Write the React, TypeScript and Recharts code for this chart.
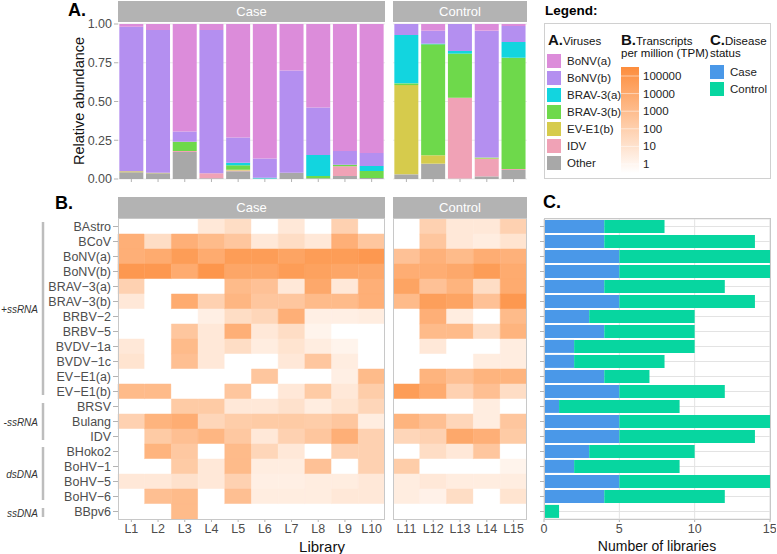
import React from 'react';
import { BarChart, Bar, XAxis, YAxis, CartesianGrid, Cell } from 'recharts';

const FONT = '"Liberation Sans", Arial, Helvetica, sans-serif';

const caseLibs = ['L1', 'L2', 'L3', 'L4', 'L5', 'L6', 'L7', 'L8', 'L9', 'L10'];
const controlLibs = ['L11', 'L12', 'L13', 'L14', 'L15'];

// A. relative abundance, L1..L15 (stacked bottom -> top)
const otherAb = [0.043, 0.037, 0.175, 0.005, 0.05, 0.003, 0.04, 0.005, 0.02, 0.006, 0.03, 0.099, 0.003, 0.017, 0.058];
const idvAb = [0, 0, 0.006, 0.032, 0.005, 0, 0, 0, 0.062, 0, 0, 0, 0.522, 0.112, 0.007];
const eve1bAb = [0.007, 0.004, 0, 0, 0.005, 0, 0, 0, 0, 0, 0.576, 0.054, 0, 0.004, 0];
const brav3bAb = [0, 0, 0.06, 0, 0.028, 0, 0, 0.015, 0.01, 0.046, 0.011, 0.716, 0.284, 0.005, 0.718];
const brav3aAb = [0, 0, 0, 0, 0.017, 0.005, 0, 0.135, 0, 0.032, 0.312, 0.004, 0.017, 0, 0.101];
const bonvbAb = [0.933, 0.92, 0.065, 0.924, 0.163, 0.125, 0.66, 0.307, 0.088, 0.084, 0.071, 0.084, 0.174, 0.819, 0.103];
const bonvaAb = [0.017, 0.039, 0.694, 0.039, 0.732, 0.867, 0.3, 0.538, 0.82, 0.832, 0, 0.043, 0, 0.043, 0.013];

const abundanceSeries = [
  { key: 'other', name: 'Other', color: '#A8A8A8', values: otherAb },
  { key: 'idv', name: 'IDV', color: '#F0A2B6', values: idvAb },
  { key: 'eve1b', name: 'EV-E1(b)', color: '#D6CB4C', values: eve1bAb },
  { key: 'brav3b', name: 'BRAV-3(b)', color: '#6ED94B', values: brav3bAb },
  { key: 'brav3a', name: 'BRAV-3(a)', color: '#12D5DF', values: brav3aAb },
  { key: 'bonvb', name: 'BoNV(b)', color: '#B48FF0', values: bonvbAb },
  { key: 'bonva', name: 'BoNV(a)', color: '#DC8CDA', values: bonvaAb },
];

// B. heatmap rows, log10(TPM) for L1..L15, 0 = not detected
const viruses = ['BAstro', 'BCoV', 'BoNV(a)', 'BoNV(b)', 'BRAV\u22123(a)', 'BRAV\u22123(b)', 'BRBV\u22122', 'BRBV\u22125',
  'BVDV\u22121a', 'BVDV\u22121c', 'EV\u2212E1(a)', 'EV\u2212E1(b)', 'BRSV', 'Bulang', 'IDV', 'BHoko2',
  'BoHV\u22121', 'BoHV\u22125', 'BoHV\u22126', 'BBpv6'];
const tpmLog = [
  [0, 0, 0, 1, 1.5, 0, 1, 0, 2, 0, 0, 2, 1, 1, 2],
  [3.5, 1.5, 3.5, 3, 2.5, 1, 1.5, 1, 3.5, 2.5, 0, 2.5, 1, 0.8, 1.2],
  [3.5, 3.7, 4.3, 3.7, 4.3, 4.3, 4, 4.3, 4.3, 4.5, 2.7, 3.4, 3, 3.6, 3.4],
  [4.5, 4.5, 3.7, 4.6, 3.9, 3.9, 4.3, 4.1, 3.9, 3.8, 3.6, 3.6, 3.8, 4.3, 3.7],
  [2, 0, 0, 0, 3, 2.7, 1, 3.8, 1, 3.5, 4, 2.7, 3.3, 1.5, 3.7],
  [1, 0, 3.7, 2, 3.2, 2.5, 2.5, 3, 3, 3.5, 3, 4.2, 4, 2.7, 4.5],
  [0, 0, 0, 0.7, 1.5, 1.8, 3.5, 0.7, 0.7, 0.8, 0, 3.5, 0.8, 0, 3],
  [0, 0, 2.5, 1, 3.5, 1, 1.5, 0.5, 0, 0, 0, 3, 3, 1.5, 3.3],
  [1, 0, 3, 1, 1.5, 0.8, 1.2, 0.8, 0.5, 0, 0, 1, 0, 0, 0.8],
  [1.2, 0, 2.8, 1, 0, 0, 1, 2.5, 0.8, 0, 0, 0, 0, 0.8, 0.8],
  [0, 0, 0, 0, 0, 2.5, 0, 0, 0.7, 3, 0, 3.3, 2.8, 3.3, 3.3],
  [3, 3, 0, 0, 2.5, 0, 1, 2.3, 1, 2.2, 4.3, 3.7, 2, 2.8, 1.5],
  [0, 0, 2.3, 2.3, 1, 1, 1.3, 0.8, 1.2, 1.8, 0, 0, 0, 0.8, 0],
  [2, 3.3, 3.6, 1.8, 2.2, 2.3, 2.3, 2.2, 2.5, 0.8, 3.3, 2.8, 1.8, 0.8, 2.5],
  [0, 2.3, 2.8, 3.2, 2.4, 1, 2, 2.5, 3.5, 2, 1.8, 2, 3.8, 3.5, 2.3],
  [0, 3.3, 2.4, 0, 3, 1.8, 1, 0, 2, 2, 0, 1.5, 1, 2.5, 0],
  [0, 0, 2.3, 1, 3, 0.8, 0.8, 2.7, 0, 2, 2.2, 0, 0, 0, 0.5],
  [1, 1, 1.3, 1, 2, 0.7, 0.7, 0.8, 0.8, 1, 0.8, 1, 0.8, 0.8, 0.8],
  [0, 2.8, 3, 0, 2.8, 0.8, 0.8, 0.8, 1, 1, 0.8, 0.6, 1.5, 0, 1.2],
  [0, 0, 3, 0, 0, 0, 0, 0, 0, 0, 0, 0, 0, 0, 0],
];

// C. number of libraries
const caseCounts = [4, 4, 5, 5, 4, 5, 3, 4, 2, 2, 4, 5, 1, 5, 5, 3, 2, 5, 4, 0];
const controlCounts = [4, 10, 10, 10, 8, 9, 7, 6, 8, 6, 3, 7, 8, 10, 9, 7, 7, 10, 8, 1];

const tpmTicks = ['100000', '10000', '1000', '100', '10', '1'];

const CASE_COLOR = '#4A98E8';
const CONTROL_COLOR = '#07D6A0';
const AXIS_TEXT = '#4D4D4D';
const TICK_LINE = '#B3B3B3';

function heatColor(v: number) {
  if (v <= 0) return '#FFFFFF';
  const t = Math.min(1, v / 5);
  const end = [253, 141, 60];
  const c = end.map((e) => Math.round(255 + (e - 255) * t));
  return `rgb(${c[0]},${c[1]},${c[2]})`;
}

const abs = (left: number, top: number, extra: React.CSSProperties = {}): React.CSSProperties => ({
  position: 'absolute', left, top, ...extra,
});

function Strip({ left, top, width, label }: { left: number; top: number; width: number; label: string }) {
  return (
    <div style={abs(left, top, { width, height: 21, background: '#B3B3B3', color: '#fff', fontSize: 13, textAlign: 'center', lineHeight: '21px' })}>
      {label}
    </div>
  );
}

function AbundancePanel({ libs, offset, left, width, showY }: { libs: string[]; offset: number; left: number; width: number; showY: boolean }) {
  const data = libs.map((lib, j) => {
    const d: any = { lib };
    abundanceSeries.forEach((s) => (d[s.key] = s.values[offset + j]));
    return d;
  });
  return (
    <div style={abs(left, 14)}>
      <BarChart width={width} height={180} data={data} margin={{ top: 10, right: 0, bottom: 0, left: 0 }} barCategoryGap="5%">
        <CartesianGrid vertical={false} stroke="#EBEBEB" />
        <XAxis dataKey="lib" tickFormatter={() => ''} tickSize={3} height={15} axisLine={false} tickLine={{ stroke: TICK_LINE }} />
        <YAxis hide={!showY} width={118} domain={[0, 1]} ticks={[0, 0.25, 0.5, 0.75, 1]} interval={0} allowDataOverflow
          tickFormatter={(v: number) => v.toFixed(2)} axisLine={false} tickSize={4} tickMargin={2}
          tickLine={{ stroke: TICK_LINE }} tick={{ fontSize: 12.5, fill: AXIS_TEXT }} />
        {abundanceSeries.map((s) => (
          <Bar key={s.key} dataKey={s.key} stackId="a" fill={s.color} isAnimationActive={false} />
        ))}
      </BarChart>
    </div>
  );
}

function HeatPanel({ libs, offset, left, width, showY }: { libs: string[]; offset: number; left: number; width: number; showY: boolean }) {
  const data = viruses.map((name) => {
    const d: any = { name };
    libs.forEach((l) => (d[l] = 1));
    return d;
  });
  return (
    <div style={abs(left, 219)}>
      <BarChart width={width} height={324} data={data} layout="vertical" margin={{ top: 0, right: 0, bottom: 0, left: 0 }} barCategoryGap={0}>
        <XAxis type="number" domain={[0, libs.length]} ticks={libs.map((_, j) => j + 0.5)} interval={0}
          tickFormatter={(v: number) => libs[Math.floor(v)]} height={24} axisLine={false} tickSize={3} tickMargin={2}
          tickLine={{ stroke: TICK_LINE }} tick={{ fontSize: 12.5, fill: AXIS_TEXT }} />
        <YAxis type="category" dataKey="name" hide={!showY} width={88} interval={0} axisLine={false}
          tickSize={5} tickMargin={2} tickLine={{ stroke: TICK_LINE }} tick={{ fontSize: 12.5, fill: AXIS_TEXT }} />
        {libs.map((lib, j) => (
          <Bar key={lib} dataKey={lib} stackId="h" isAnimationActive={false}>
            {viruses.map((v, i) => {
              const c = heatColor(tpmLog[i][offset + j]);
              return <Cell key={v} fill={c} stroke={c} strokeWidth={0.5} />;
            })}
          </Bar>
        ))}
      </BarChart>
    </div>
  );
}

function CountPanel() {
  const data = viruses.map((name, i) => ({ name, Case: caseCounts[i], Control: controlCounts[i] }));
  return (
    <div style={abs(539, 219)}>
      <BarChart width={237} height={324} data={data} layout="vertical" margin={{ top: 0, right: 6, bottom: 0, left: 0 }} barCategoryGap="6%">
        <CartesianGrid xAxisId="minor" horizontal={false} stroke="#F3F3F3" />
        <CartesianGrid stroke="#E3E3E3" />
        <XAxis type="number" domain={[0, 15]} ticks={[0, 5, 10, 15]} height={24} axisLine={false} tickSize={3} tickMargin={2}
          tickLine={{ stroke: TICK_LINE }} tick={{ fontSize: 12.5, fill: AXIS_TEXT }} />
        <XAxis xAxisId="minor" type="number" domain={[0, 15]} ticks={[2.5, 7.5, 12.5]} hide />
        <YAxis type="category" dataKey="name" width={5} interval={0} axisLine={false} tickFormatter={() => ''}
          tickSize={4} tickLine={{ stroke: TICK_LINE }} />
        <Bar dataKey="Case" stackId="c" fill={CASE_COLOR} isAnimationActive={false} />
        <Bar dataKey="Control" stackId="c" fill={CONTROL_COLOR} isAnimationActive={false} />
      </BarChart>
    </div>
  );
}

function Legend() {
  const item = (label: string, color: string, left: number, cy: number) => (
    <React.Fragment key={label}>
      <div style={abs(left, cy - 7, { width: 14, height: 14, background: color })} />
      <div style={abs(left + 20, cy - 8, { fontSize: 11.5, color: '#222', lineHeight: '16px', whiteSpace: 'nowrap' })}>{label}</div>
    </React.Fragment>
  );
  const virusLegend = [...abundanceSeries].reverse();
  const head: React.CSSProperties = { fontSize: 11.5, color: '#111', lineHeight: '12px', whiteSpace: 'nowrap' };
  return (
    <>
      <div style={abs(545, 3, { fontSize: 13.5, fontWeight: 'bold', color: '#000' })}>Legend:</div>
      <div style={abs(544, 23, { width: 227, height: 156, border: '1px solid #D0D0D0', boxSizing: 'border-box' })} />
      <div style={abs(548, 34, head)}>
        <b style={{ fontSize: 15 }}>A.</b>Viruses
      </div>
      {virusLegend.map((s, i) => item(s.name, s.color, 547, 61 + i * 17))}
      <div style={abs(621, 34, head)}>
        <b style={{ fontSize: 15 }}>B.</b>Transcripts<br />per million (TPM)
      </div>
      <svg style={abs(621, 67)} width={18} height={106}>
        <defs>
          <linearGradient id="tpmGrad" x1="0" y1="0" x2="0" y2="1">
            <stop offset="0" stopColor={heatColor(5)} />
            <stop offset="1" stopColor="#FFFFFF" />
          </linearGradient>
        </defs>
        <rect x={0} y={0} width={18} height={106} fill="url(#tpmGrad)" />
        {tpmTicks.map((t, i) => (
          <line key={t} x1={0} x2={18} y1={9 + i * 17.6} y2={9 + i * 17.6} stroke="#fff" strokeOpacity={0.5} />
        ))}
      </svg>
      {tpmTicks.map((t, i) => (
        <div key={t} style={abs(643, 68 + i * 17.6, { fontSize: 11.5, color: '#222', lineHeight: '16px' })}>{t}</div>
      ))}
      <div style={abs(710, 34, head)}>
        <b style={{ fontSize: 15 }}>C.</b>Disease<br />status
      </div>
      {item('Case', CASE_COLOR, 710, 72)}
      {item('Control', CONTROL_COLOR, 710, 89)}
    </>
  );
}

function Groups() {
  const groups = [
    { label: '+ssRNA', y1: 222, y2: 395 },
    { label: '-ssRNA', y1: 403, y2: 440 },
    { label: 'dsDNA', y1: 447, y2: 500 },
    { label: 'ssDNA', y1: 508, y2: 517 },
  ];
  return (
    <svg style={abs(0, 0)} width={60} height={554}>
      {groups.map((g) => (
        <g key={g.label}>
          <line x1={43} x2={43} y1={g.y1} y2={g.y2} stroke="#BDBDBD" strokeWidth={2.5} />
          <text x={38} y={(g.y1 + g.y2) / 2 + 4} textAnchor="end" fontSize={10} fontStyle="italic" fill="#333">{g.label}</text>
        </g>
      ))}
    </svg>
  );
}

export default function App() {
  return (
    <div style={{ position: 'absolute', left: 0, top: 0, width: 777, height: 554, background: '#fff', fontFamily: FONT, overflow: 'hidden' }}>
      <div style={abs(68, 0, { fontSize: 18, fontWeight: 'bold' })}>A.</div>
      <div style={abs(79, 101, { transform: 'translate(-50%, -50%) rotate(-90deg)', fontSize: 14.5, whiteSpace: 'nowrap', color: '#111' })}>
        Relative abundance
      </div>
      <Strip left={118} top={1} width={267} label="Case" />
      <Strip left={393} top={1} width={134} label="Control" />
      <AbundancePanel libs={caseLibs} offset={0} left={0} width={385} showY />
      <AbundancePanel libs={controlLibs} offset={10} left={393} width={134} showY={false} />

      <Legend />

      <div style={abs(55, 193, { fontSize: 18, fontWeight: 'bold' })}>B.</div>
      <Strip left={118} top={197} width={267} label="Case" />
      <Strip left={393} top={197} width={134} label="Control" />
      <HeatPanel libs={caseLibs} offset={0} left={30} width={355} showY />
      <HeatPanel libs={controlLibs} offset={10} left={393} width={134} showY={false} />
      <div style={abs(118, 218, { width: 267, height: 302, border: '1px solid #C8C8C8', boxSizing: 'border-box' })} />
      <div style={abs(393, 218, { width: 134, height: 302, border: '1px solid #C8C8C8', boxSizing: 'border-box' })} />
      <Groups />
      <div style={abs(322, 546, { transform: 'translate(-50%, -50%)', fontSize: 15, color: '#111' })}>Library</div>

      <div style={abs(543, 192, { fontSize: 18, fontWeight: 'bold' })}>C.</div>
      <CountPanel />
      <div style={abs(544, 218, { width: 227, height: 302, border: '1px solid #C8C8C8', boxSizing: 'border-box' })} />
      <div style={abs(657, 546, { transform: 'translate(-50%, -50%)', fontSize: 14, color: '#111', whiteSpace: 'nowrap' })}>Number of libraries</div>
    </div>
  );
}
